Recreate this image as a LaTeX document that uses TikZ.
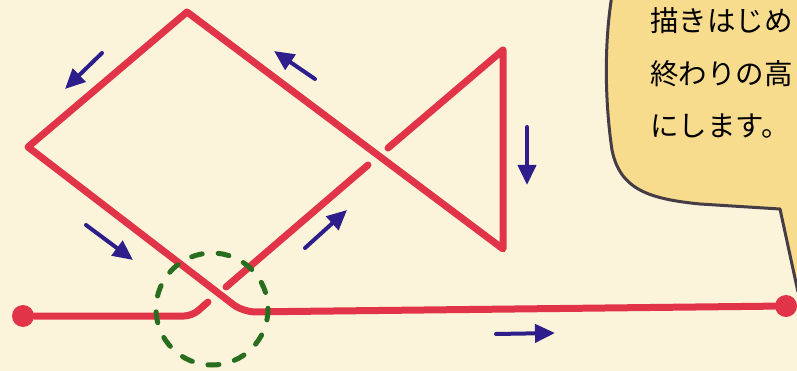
\documentclass[tikz,border=0pt]{standalone}
\usepackage{fontspec}
\newfontfamily\jpfont{Noto Sans CJK JP}
\definecolor{paperCream}{RGB}{251, 244, 218}
\definecolor{bubbleYellow}{RGB}{247, 220, 142}
\definecolor{crayonGray}{RGB}{70, 60, 70}
\definecolor{lineRed}{RGB}{226, 52, 72}
\definecolor{arrowBlue}{RGB}{45, 30, 140}
\definecolor{ringGreen}{RGB}{40, 110, 30}
\usetikzlibrary{arrows.meta}

\begin{document}
\begin{tikzpicture}[
    x=1pt, y=-1pt,
    pen/.style={draw=lineRed, line width=7pt, line cap=round, line join=round},
    hint/.style={draw=arrowBlue, line width=4pt, line cap=round,
                 -{Triangle[length=20pt, width=18pt]}},
    dot/.style={circle, fill=lineRed, inner sep=0pt, minimum size=22pt},
    ring/.style={draw=ringGreen, line width=5pt, line cap=round,
                 dash pattern=on 11pt off 16pt},
    crayon/.style={draw=crayonGray, line width=3pt, line join=round},
    say/.style={font=\jpfont\fontsize{28.5}{28.5}\selectfont, anchor=base west,
                inner sep=0pt, text=black},
  ]
  \clip (0,0) rectangle (797,371);
  \fill[paperCream] (0,0) rectangle (797,371);

  % speech bubble
  \fill[bubbleYellow] (612,-5) .. controls (603,50) and (606,110) .. (612,150)
    .. controls (620,190) and (650,199) .. (700,204) -- (780,209) -- (798,292)
    -- (805,292) -- (805,-5) -- cycle;
  \draw[crayon] (612,-5) .. controls (603,50) and (606,110) .. (612,150)
    .. controls (620,190) and (650,199) .. (700,204) -- (780,209) -- (798,292);
  \node[say] (L1) at (650,32) {描きはじめ};
  \node[say] (L2) at (650,84.5) {終わりの高};
  \node[say] (L3) at (650,137) {にします。};

  % the one-stroke line
  \node[dot] (START) at (23,316) {};
  \node[dot] (END) at (786,306) {};
  \coordinate (BEND1) at (192,316);
  \coordinate (UNDER1) at (208,302);
  \coordinate (UNDER2) at (226,287);
  \coordinate (UNDER3) at (368,165);
  \coordinate (UNDER4) at (388,148);
  \coordinate (APEX) at (503,50);
  \coordinate (TAIL) at (503,249);
  \coordinate (TOP) at (187,12);
  \coordinate (LEFT) at (28,147);
  \coordinate (BEND2) at (243,312);

  \draw[pen, rounded corners=8pt] (START) -- (BEND1) -- (UNDER1);
  \draw[pen] (UNDER2) -- (UNDER3);
  \draw[pen] (UNDER4) -- (APEX) -- (TAIL) -- (TOP) -- (LEFT)
    [rounded corners=12pt] -- (BEND2) -- (END);

  \draw[ring] (212,309) circle (56);

  % direction hints
  \foreach \ax/\ay/\bx/\by in {102/53/65/89, 315/79/274/51, 527/127/527/185,
                               86/225/133/260, 305/248/347/210, 496/334/555/333}
    \draw[hint] (\ax,\ay) -- (\bx,\by);
\end{tikzpicture}
\end{document}
